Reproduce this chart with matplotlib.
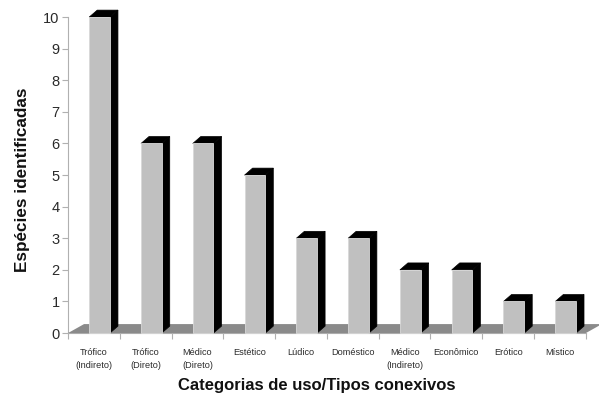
import matplotlib
matplotlib.use("Agg")
import matplotlib.pyplot as plt
from matplotlib.patches import Polygon

plt.rcParams['font.family'] = ['Liberation Sans', 'DejaVu Sans']

# dados
categorias = ["Trófico\n(Indireto)", "Trófico\n(Direto)", "Médico\n(Direto)", "Estético",
              "Lúdico", "Doméstico", "Médico\n(Indireto)", "Econômico", "Erótico", "Místico"]
especies = [10, 6, 6, 5, 3, 3, 2, 2, 1, 1]
y_ticks = list(range(0, 11))

fig = plt.figure(figsize=(5.99, 3.97), dpi=100)
ax = fig.add_axes([0.1135, 0.161, 0.8645, 0.796])
ax.set_xlim(0, len(categorias))
ax.set_ylim(0, 10)

# profundidade "3D"
bar_dx, bar_dy = 0.155, 0.22
floor_dx, floor_dy = 0.31, 0.285

# chão
n = len(categorias)
floor = Polygon([(0, 0), (n, 0), (n + floor_dx, floor_dy), (floor_dx, floor_dy)],
                closed=True, facecolor='#8a8a8a', edgecolor='none', clip_on=False, zorder=1)
ax.add_patch(floor)

for i, v in enumerate(especies):
    xl = i + 0.41
    xr = i + 0.81
    # face lateral
    side = Polygon([(xr, 0), (xr + bar_dx, bar_dy), (xr + bar_dx, v + bar_dy), (xr, v)],
                   closed=True, facecolor='black', edgecolor='black', lw=0.5, clip_on=False, zorder=2)
    # topo
    top = Polygon([(xl, v), (xr, v), (xr + bar_dx, v + bar_dy), (xl + bar_dx, v + bar_dy)],
                  closed=True, facecolor='black', edgecolor='black', lw=0.5, clip_on=False, zorder=2)
    # frente
    front = Polygon([(xl, 0), (xr, 0), (xr, v), (xl, v)],
                    closed=True, facecolor='#c0c0c0', edgecolor='#d8d8d8', lw=0.6, clip_on=False, zorder=3)
    ax.add_patch(side)
    ax.add_patch(top)
    ax.add_patch(front)

# eixos
for s in ['top', 'right']:
    ax.spines[s].set_visible(False)
ax.spines['left'].set_color('#b0b0b0')
ax.spines['bottom'].set_color('#b0b0b0')
ax.spines['left'].set_zorder(0)
ax.spines['bottom'].set_zorder(0)

ax.set_yticks(y_ticks)
ax.tick_params(axis='y', colors='#b0b0b0', length=4, width=0.8, labelsize=10.5, labelcolor='#2a2a2a', pad=2)

ax.set_xticks([i for i in range(n + 1)], minor=True)
ax.set_xticks([i + 0.5 for i in range(n)])
ax.set_xticklabels(categorias, fontsize=6.6, color='#2a2a2a', linespacing=1.65)
ax.tick_params(axis='x', which='major', length=0, pad=10.5)
ax.tick_params(axis='x', which='minor', colors='#b0b0b0', length=4, width=0.8)

fig.text(0.528, 0.03, "Categorias de uso/Tipos conexivos", fontsize=12, fontweight='bold',
         ha='center', va='center', color='#111111')
fig.text(0.037, 0.547, "Espécies identificadas", fontsize=12.3, fontweight='bold',
         ha='center', va='center', rotation=90, color='#111111')

fig.savefig("out.png", dpi=100)
